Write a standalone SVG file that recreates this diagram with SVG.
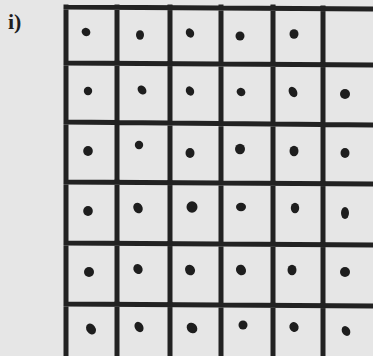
<svg xmlns="http://www.w3.org/2000/svg" width="373" height="356" viewBox="0 0 373 356">
<style>
.ln{stroke:#222;stroke-width:5;fill:none;stroke-linecap:square}
.d{fill:#1e1e1e}
.lab{font-family:"Liberation Serif",serif;font-weight:bold;font-size:22px;fill:#1e1e1e}
</style>
<rect width="373" height="356" fill="#e6e6e6"/>
<text class="lab" x="8" y="29">i)</text>
<g id="grid">
<path class="ln" d="M66 7V370M117 7V370M170 7V370M221 7V370M273 7V370M323 8V370M66 7L380 9M66 63L380 65M66 122L380 125M66 182L380 184M66 243L380 245M66 304L380 306"/>
</g>
<g id="dots">
<ellipse class="d" cx="86" cy="32" rx="4.5" ry="4" transform="rotate(30 86 32)"/>
<ellipse class="d" cx="140" cy="35" rx="4" ry="4.8"/>
<ellipse class="d" cx="190" cy="33" rx="4" ry="4.8" transform="rotate(-30 190 33)"/>
<ellipse class="d" cx="240" cy="36" rx="4.5" ry="4.5"/>
<ellipse class="d" cx="294" cy="34" rx="4.5" ry="4.8"/>
<ellipse class="d" cx="88" cy="91" rx="4.2" ry="4.2"/>
<ellipse class="d" cx="142" cy="90" rx="4" ry="5" transform="rotate(-40 142 90)"/>
<ellipse class="d" cx="190" cy="91" rx="4" ry="4.8" transform="rotate(-30 190 91)"/>
<ellipse class="d" cx="241" cy="92" rx="4.5" ry="4" transform="rotate(30 241 92)"/>
<ellipse class="d" cx="293" cy="92" rx="4" ry="5.5" transform="rotate(-30 293 92)"/>
<ellipse class="d" cx="345" cy="94" rx="5" ry="5"/>
<ellipse class="d" cx="88" cy="151" rx="4.8" ry="5"/>
<ellipse class="d" cx="139" cy="145" rx="4.2" ry="4.2"/>
<ellipse class="d" cx="190" cy="153" rx="4.5" ry="5"/>
<ellipse class="d" cx="240" cy="149" rx="5" ry="5.2"/>
<ellipse class="d" cx="294" cy="151" rx="4.5" ry="5.2"/>
<ellipse class="d" cx="345" cy="153" rx="4.5" ry="5"/>
<ellipse class="d" cx="88" cy="211" rx="4.8" ry="5"/>
<ellipse class="d" cx="138" cy="208" rx="4.5" ry="5.5" transform="rotate(-30 138 208)"/>
<ellipse class="d" cx="192" cy="207" rx="5.5" ry="5.8"/>
<ellipse class="d" cx="241" cy="207" rx="5" ry="4.2"/>
<ellipse class="d" cx="295" cy="208" rx="4.2" ry="5.2"/>
<ellipse class="d" cx="345" cy="213" rx="4" ry="6"/>
<ellipse class="d" cx="89" cy="272" rx="5" ry="5"/>
<ellipse class="d" cx="138" cy="269" rx="4.5" ry="5.2" transform="rotate(-30 138 269)"/>
<ellipse class="d" cx="190" cy="270" rx="4.8" ry="5.5" transform="rotate(-30 190 270)"/>
<ellipse class="d" cx="241" cy="270" rx="4.8" ry="5.5" transform="rotate(-35 241 270)"/>
<ellipse class="d" cx="292" cy="270" rx="4.5" ry="5.2"/>
<ellipse class="d" cx="345" cy="272" rx="5" ry="5"/>
<ellipse class="d" cx="91" cy="329" rx="4.5" ry="5.8" transform="rotate(-35 91 329)"/>
<ellipse class="d" cx="139" cy="327" rx="4.2" ry="5.5" transform="rotate(-30 139 327)"/>
<ellipse class="d" cx="192" cy="328" rx="4.8" ry="5.8" transform="rotate(-45 192 328)"/>
<ellipse class="d" cx="243" cy="325" rx="4.5" ry="4.5"/>
<ellipse class="d" cx="294" cy="327" rx="4.5" ry="5" transform="rotate(-30 294 327)"/>
<ellipse class="d" cx="346" cy="331" rx="4" ry="5.2" transform="rotate(-30 346 331)"/>
</g>
</svg>
